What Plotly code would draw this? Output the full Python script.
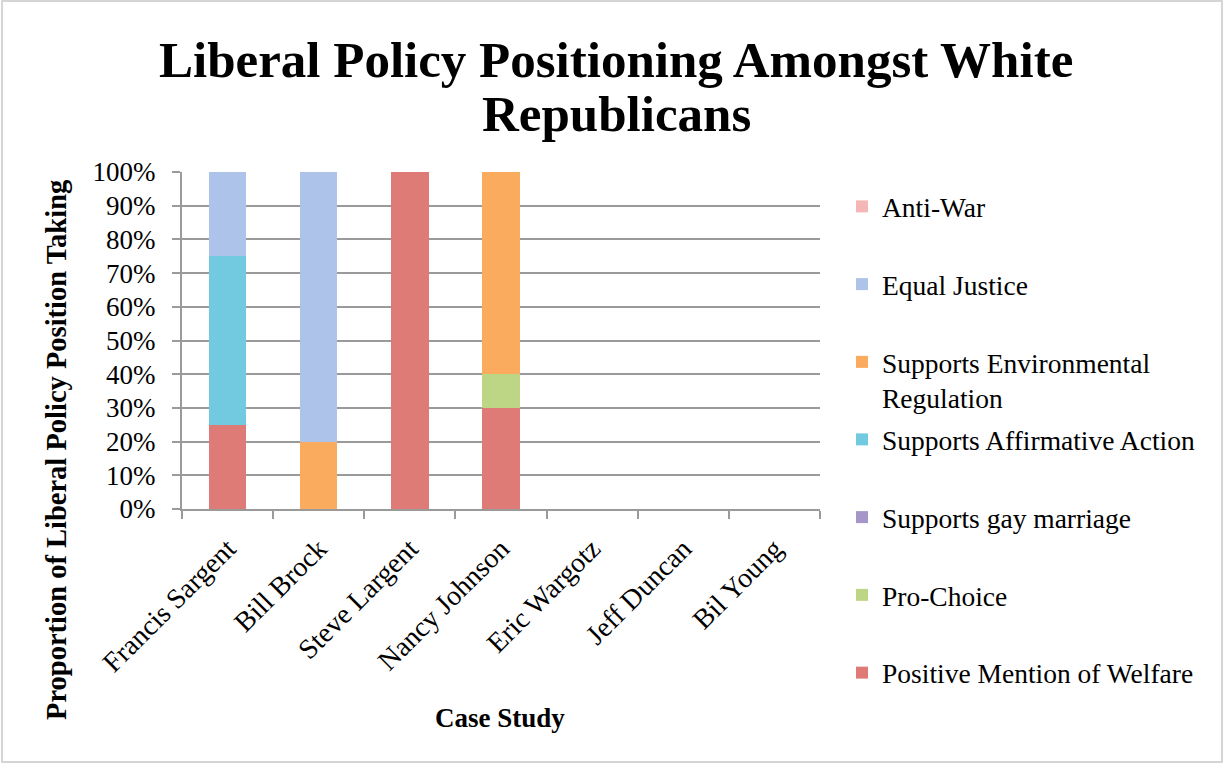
import plotly.graph_objects as go

categories = ["Francis Sargent", "Bill Brock", "Steve Largent", "Nancy Johnson",
              "Eric Wargotz", "Jeff Duncan", "Bil Young"]

# stacking order: first series at bottom
welfare = [0.25, 0.0, 1.00, 0.30, 0.0, 0.0, 0.0]
pro_choice = [0.0, 0.0, 0.0, 0.10, 0.0, 0.0, 0.0]
gay_marriage = [0.0, 0.0, 0.0, 0.0, 0.0, 0.0, 0.0]
affirmative_action = [0.50, 0.0, 0.0, 0.0, 0.0, 0.0, 0.0]
environmental = [0.0, 0.20, 0.0, 0.60, 0.0, 0.0, 0.0]
equal_justice = [0.25, 0.80, 0.0, 0.0, 0.0, 0.0, 0.0]
anti_war = [0.0, 0.0, 0.0, 0.0, 0.0, 0.0, 0.0]

series_names = ["Positive Mention of Welfare", "Pro-Choice", "Supports gay marriage",
                "Supports Affirmative Action", "Supports Environmental<br>Regulation",
                "Equal Justice", "Anti-War"]
series_values = [welfare, pro_choice, gay_marriage, affirmative_action,
                 environmental, equal_justice, anti_war]
series_colors = ["#df7b76", "#bdd685", "#a595c9", "#72cae1", "#fbab5e", "#adc3ea", "#f5b6b6"]
# which legend box each series is listed in (split so item spacing matches)
series_legend = ["legend2", "legend2", "legend2", "legend2", "legend", "legend", "legend"]

tick_vals = [0, 0.1, 0.2, 0.3, 0.4, 0.5, 0.6, 0.7, 0.8, 0.9, 1.0]
tick_text = ["0%", "10%", "20%", "30%", "40%", "50%", "60%", "70%", "80%", "90%", "100%"]

title_lines = ["Liberal Policy Positioning Amongst White", "Republicans"]

FONT = "Liberation Serif"

fig = go.Figure()
n = len(series_names)
for i, (name, vals, col, lg) in enumerate(zip(series_names, series_values,
                                              series_colors, series_legend)):
    fig.add_trace(go.Bar(
        x=categories, y=vals, name=name,
        marker=dict(color=col, line=dict(width=0)),
        legendgroup=f"g{i}", legendrank=n - i, legend=lg,
    ))

W, H = 1225, 765
L, R, T, B = 182, 405, 172, 256
pw, ph = W - L - R, H - T - B

def px_x(x):
    return (x - L) / pw

def px_y(y):
    return (H - B - y) / ph

annotations = [
    dict(text="<b>Proportion of Liberal Policy Position Taking</b>",
         x=px_x(56), y=px_y(450), xref="paper", yref="paper",
         textangle=-90, showarrow=False, xanchor="center", yanchor="middle",
         font=dict(family=FONT, size=28.5, color="black")),
    dict(text="<b>Case Study</b>",
         x=px_x(500), y=px_y(718), xref="paper", yref="paper",
         showarrow=False, xanchor="center", yanchor="middle",
         font=dict(family=FONT, size=27, color="black")),
]
for line, yc in zip(title_lines, [60, 114]):
    annotations.append(dict(
        text=f"<b>{line}</b>", x=px_x(616), y=px_y(yc), xref="paper", yref="paper",
        showarrow=False, xanchor="center", yanchor="middle",
        font=dict(family=FONT, size=51, color="black")))

legend_style = dict(
    xanchor="left", yanchor="top",
    font=dict(family=FONT, size=27.5, color="black"),
    tracegroupgap=39, bgcolor="rgba(0,0,0,0)", valign="top",
    maxheight=700,
)

fig.update_layout(
    width=W, height=H,
    margin=dict(l=L, r=R, t=T, b=B, autoexpand=False),
    barmode="stack", bargap=0.59,
    paper_bgcolor="white", plot_bgcolor="white",
    font=dict(family=FONT, size=27, color="black"),
    showlegend=True,
    legend=dict(x=px_x(842), y=px_y(182), **legend_style),
    legend2=dict(x=px_x(842), y=px_y(415), **legend_style),
    xaxis=dict(
        type="category", tickangle=-45, tickson="boundaries",
        ticks="outside", ticklen=8, tickcolor="#9a9a9a", tickwidth=2,
        showline=True, linecolor="#9a9a9a", linewidth=2,
        showgrid=False, tickfont=dict(family=FONT, size=28),
        ticklabelstandoff=10,
    ),
    yaxis=dict(
        range=[0, 1.0], tickvals=tick_vals, ticktext=tick_text,
        ticks="outside", ticklen=8, tickcolor="#9a9a9a", tickwidth=2,
        showline=True, linecolor="#9a9a9a", linewidth=2,
        showgrid=True, gridcolor="#9a9a9a", gridwidth=2,
        zeroline=False, tickfont=dict(family=FONT, size=27),
        ticklabelstandoff=11,
    ),
    annotations=annotations,
    shapes=[
        dict(type="rect", xref="paper", yref="paper",
             x0=px_x(2), x1=px_x(1222), y0=px_y(762), y1=px_y(1),
             line=dict(color="#c8c8c8", width=1.5), fillcolor="rgba(0,0,0,0)",
             layer="below"),
    ],
)

fig.write_html("out.html", config={"displayModeBar": False},
               post_script="document.body.style.margin='0px';")
